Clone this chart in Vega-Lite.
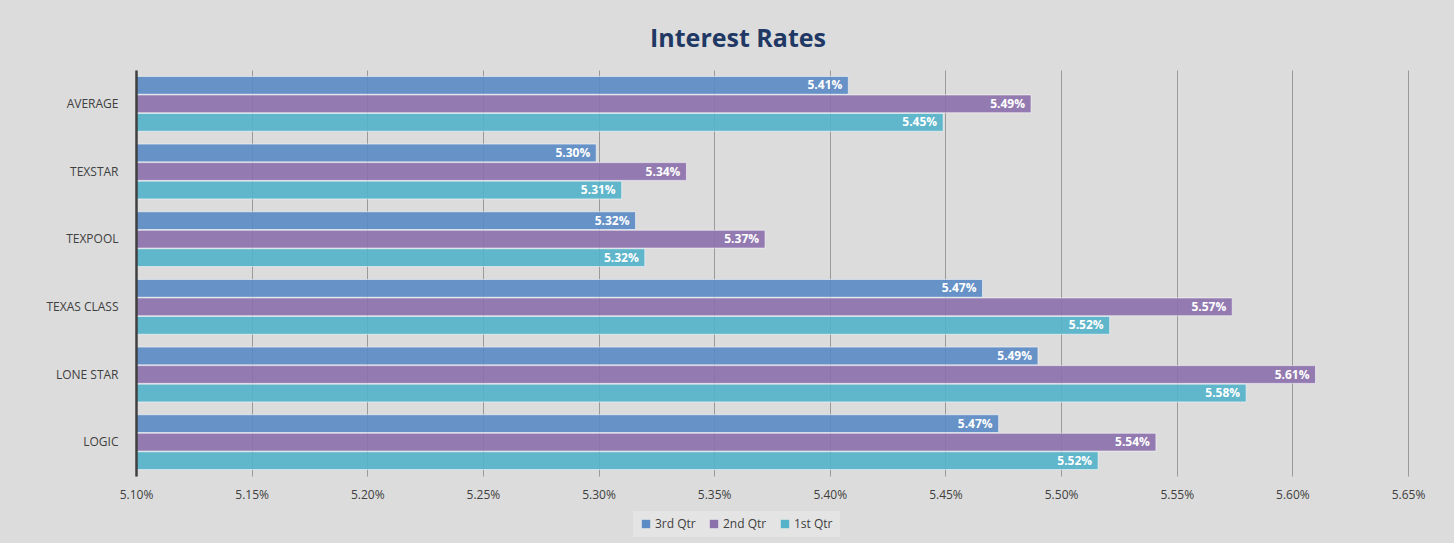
{
  "$schema": "https://vega.github.io/schema/vega-lite/v6.json",
  "width": 1272,
  "height": 406,
  "autosize": {"type": "none"},
  "padding": {"left": 136, "top": 70, "right": 46, "bottom": 67},
  "background": "#dcdcdc",
  "title": {
    "text": "Interest Rates",
    "font": "Open Sans",
    "fontSize": 25,
    "fontWeight": "bold",
    "color": "#1f3864",
    "anchor": "middle",
    "dx": -34,
    "offset": 18
  },
  "data": {
    "values": [
      {"fund": "AVERAGE", "quarter": "3rd Qtr", "rate": 0.05408},
      {"fund": "AVERAGE", "quarter": "2nd Qtr", "rate": 0.05487},
      {"fund": "AVERAGE", "quarter": "1st Qtr", "rate": 0.05449},
      {"fund": "TEXSTAR", "quarter": "3rd Qtr", "rate": 0.05299},
      {"fund": "TEXSTAR", "quarter": "2nd Qtr", "rate": 0.05338},
      {"fund": "TEXSTAR", "quarter": "1st Qtr", "rate": 0.0531},
      {"fund": "TEXPOOL", "quarter": "3rd Qtr", "rate": 0.05316},
      {"fund": "TEXPOOL", "quarter": "2nd Qtr", "rate": 0.05372},
      {"fund": "TEXPOOL", "quarter": "1st Qtr", "rate": 0.0532},
      {"fund": "TEXAS CLASS", "quarter": "3rd Qtr", "rate": 0.05466},
      {"fund": "TEXAS CLASS", "quarter": "2nd Qtr", "rate": 0.05574},
      {"fund": "TEXAS CLASS", "quarter": "1st Qtr", "rate": 0.05521},
      {"fund": "LONE STAR", "quarter": "3rd Qtr", "rate": 0.0549},
      {"fund": "LONE STAR", "quarter": "2nd Qtr", "rate": 0.0561},
      {"fund": "LONE STAR", "quarter": "1st Qtr", "rate": 0.0558},
      {"fund": "LOGIC", "quarter": "3rd Qtr", "rate": 0.05473},
      {"fund": "LOGIC", "quarter": "2nd Qtr", "rate": 0.05541},
      {"fund": "LOGIC", "quarter": "1st Qtr", "rate": 0.05516}
    ]
  },
  "encoding": {
    "y": {
      "field": "fund",
      "type": "nominal",
      "sort": ["AVERAGE", "TEXSTAR", "TEXPOOL", "TEXAS CLASS", "LONE STAR", "LOGIC"],
      "scale": {"paddingInner": 0.19, "paddingOuter": 0.095},
      "axis": {
        "title": null,
        "domain": true,
        "domainColor": "#404040",
        "domainWidth": 2.5,
        "ticks": false,
        "labelPadding": 18,
        "labelFont": "Open Sans",
        "labelFontSize": 12,
        "labelColor": "#404040",
        "grid": false,
        "zindex": 2
      }
    },
    "yOffset": {
      "field": "quarter",
      "type": "nominal",
      "sort": ["3rd Qtr", "2nd Qtr", "1st Qtr"],
      "scale": {"paddingInner": 0.04}
    },
    "x": {
      "field": "rate",
      "type": "quantitative",
      "scale": {"domain": [0.051, 0.0565], "nice": false, "zero": false},
      "axis": {
        "title": null,
        "format": ".2%",
        "values": [0.051, 0.0515, 0.052, 0.0525, 0.053, 0.0535, 0.054, 0.0545, 0.055, 0.0555, 0.056, 0.0565],
        "domain": false,
        "ticks": false,
        "grid": true,
        "gridColor": "#9a9a9a",
        "gridWidth": 1,
        "labelFlush": false,
        "labelPadding": 13,
        "labelFont": "Open Sans",
        "labelFontSize": 12,
        "labelColor": "#404040"
      }
    }
  },
  "layer": [
    {
      "mark": {"type": "bar", "fillOpacity": 0.92, "stroke": "#ffffff", "strokeOpacity": 0.55, "strokeWidth": 1, "clip": true},
      "encoding": {
        "color": {
          "field": "quarter",
          "type": "nominal",
          "scale": {"domain": ["3rd Qtr", "2nd Qtr", "1st Qtr"], "range": ["#5b8bc4", "#8c72ad", "#55b2c9"]},
          "legend": {
            "title": null,
            "orient": "none",
            "direction": "horizontal",
            "legendX": 497,
            "legendY": 441,
            "symbolType": "square",
            "symbolSize": 70,
            "symbolStrokeWidth": 0,
            "labelFont": "Open Sans",
            "labelFontSize": 12,
            "labelColor": "#404040",
            "columnPadding": 12,
            "symbolOffset": 0,
            "labelOffset": 3,
            "padding": 7,
            "fillColor": "#e4e4e4"
          }
        }
      }
    },
    {
      "mark": {"type": "text", "align": "right", "baseline": "middle", "dx": -6, "font": "Open Sans", "fontSize": 12, "fontWeight": "bold", "color": "#ffffff"},
      "encoding": {
        "text": {"field": "rate", "type": "quantitative", "format": ".2%"}
      }
    }
  ],
  "config": {
    "view": {"stroke": null}
  }
}
